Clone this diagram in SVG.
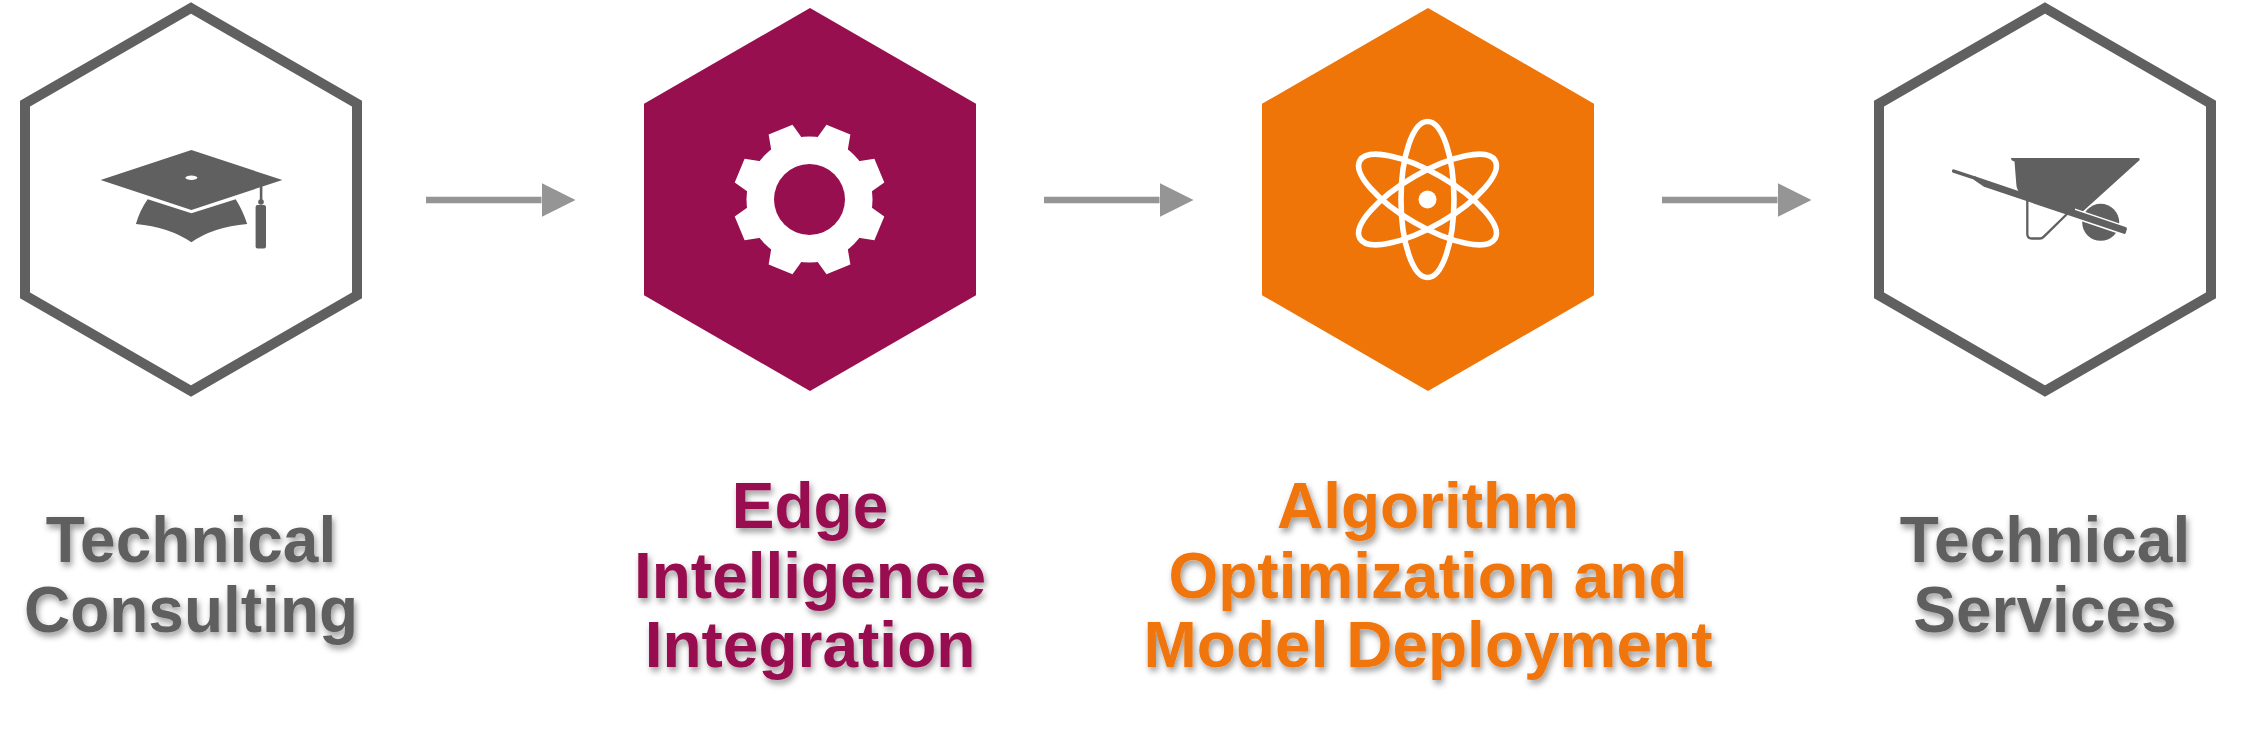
<svg xmlns="http://www.w3.org/2000/svg" xmlns:xlink="http://www.w3.org/1999/xlink" width="2268" height="732" viewBox="0 0 2268 732">
  <style>
    .hexo { fill: #ffffff; stroke: #606060; stroke-width: 10; stroke-linejoin: miter; }
    .icon { fill: #606060; }
    .lbl { font-family: "Liberation Sans", Arial, Helvetica, sans-serif; font-weight: bold; font-size: 64px; text-anchor: middle; filter: url(#sh); }
    .gray { fill: #5f5f5f; }
    .mag { fill: #970f4f; }
    .org { fill: #f07508; }
    .conn { stroke: #959595; stroke-width: 6.7; fill: none; marker-end: url(#ah); }
    .orbit { fill: none; stroke: #ffffff; stroke-width: 5.6; }
  </style>
  <defs>
    <filter id="sh" x="-10%" y="-25%" width="125%" height="160%">
      <feDropShadow dx="2" dy="4" stdDeviation="3" flood-color="#000000" flood-opacity="0.4"/>
    </filter>
    <marker id="ah" markerUnits="userSpaceOnUse" markerWidth="34" markerHeight="34" refX="0" refY="17" orient="auto" viewBox="0 0 34 34">
      <path d="M0,0 L34,17 L0,34 Z" fill="#959595"/>
    </marker>
    <polygon id="tooth" points="-17.3,-56.6 -12.9,-75.6 12.9,-75.6 17.3,-56.6" fill="#ffffff"/>
    <clipPath id="wheelclip"><rect x="2075" y="195" width="60" height="50"/></clipPath>
  </defs>

  <g id="connectors">
    <line class="conn" x1="426" y1="200" x2="541.5" y2="200"/>
    <line class="conn" x1="1044" y1="200" x2="1159.5" y2="200"/>
    <line class="conn" x1="1662" y1="200" x2="1777.5" y2="200"/>
  </g>

  <g id="node-technical-consulting">
    <polygon class="hexo" points="191,8 357,103.75 357,295.25 191,391 25,295.25 25,103.75"/>
    <g id="icon-cap" class="icon">
      <polygon points="100.6,180 191.4,150 282.4,180 191.4,210"/>
      <ellipse cx="191.4" cy="177.7" rx="6" ry="2.2" fill="#ffffff"/>
      <path d="M147.7,199.3 L191.4,213.3 L235.7,199.3 Q242.5,210 247.2,224 Q213,227 191.4,242.3 Q169,227 135.9,224 Q140,210 147.7,199.3 Z"/>
      <rect x="259.8" y="186" width="2.6" height="17"/>
      <circle cx="261" cy="202" r="2.8"/>
      <rect x="255.6" y="205" width="10.4" height="43.5" rx="2"/>
    </g>
    <text class="lbl gray" x="191" y="562">Technical</text>
    <text class="lbl gray" x="191" y="632">Consulting</text>
  </g>

  <g id="node-edge-intelligence">
    <polygon points="810,8 976,103.75 976,295.25 810,391 644,295.25 644,103.75" fill="#970f4f"/>
    <g id="icon-gear" transform="translate(809.5,199.5)">
      <circle r="63" fill="#ffffff"/>
      <use xlink:href="#tooth" transform="rotate(22.5)"/>
      <use xlink:href="#tooth" transform="rotate(67.5)"/>
      <use xlink:href="#tooth" transform="rotate(112.5)"/>
      <use xlink:href="#tooth" transform="rotate(157.5)"/>
      <use xlink:href="#tooth" transform="rotate(202.5)"/>
      <use xlink:href="#tooth" transform="rotate(247.5)"/>
      <use xlink:href="#tooth" transform="rotate(292.5)"/>
      <use xlink:href="#tooth" transform="rotate(337.5)"/>
      <circle r="35.5" fill="#970f4f"/>
    </g>
    <text class="lbl mag" x="810" y="528">Edge</text>
    <text class="lbl mag" x="810" y="597.5">Intelligence</text>
    <text class="lbl mag" x="810" y="667">Integration</text>
  </g>

  <g id="node-algorithm-optimization">
    <polygon points="1428,8 1594,103.75 1594,295.25 1428,391 1262,295.25 1262,103.75" fill="#f07508"/>
    <g id="icon-atom" transform="translate(1427.5,199.5)">
      <ellipse class="orbit" rx="26.5" ry="78"/>
      <ellipse class="orbit" rx="26.5" ry="78" transform="rotate(60)"/>
      <ellipse class="orbit" rx="26.5" ry="78" transform="rotate(-60)"/>
      <circle r="9" fill="#ffffff"/>
    </g>
    <text class="lbl org" x="1428" y="528">Algorithm</text>
    <text class="lbl org" x="1428" y="597.5">Optimization and</text>
    <text class="lbl org" x="1428" y="667">Model Deployment</text>
  </g>

  <g id="node-technical-services">
    <polygon class="hexo" points="2045,8 2211,103.75 2211,295.25 2045,391 1879,295.25 1879,103.75"/>
    <g id="icon-wheelbarrow">
      <circle cx="2100.7" cy="222.3" r="18.5" fill="#606060"/>
      <path d="M2027.3,199 L2027.3,234 Q2027.3,238.5 2031.8,238.5 L2040,238.5 Q2042,238.5 2043.6,236.9 L2068,213" fill="none" stroke="#606060" stroke-width="2.3"/>
      <path class="icon" d="M2011,158 L2139,158 Q2140.8,160 2138,161.5 L2080,214 L2021,194 Q2016.5,190 2016.3,184 L2014.5,161.5 Q2011,160.5 2011,158 Z"/>
      <g transform="translate(1954,169.3) rotate(18.6)">
        <g clip-path="url(#wheelclip)" transform="rotate(-18.6) translate(-1954,-169.3)">
          <g transform="translate(1954,169.3) rotate(18.6)">
            <polygon points="22,0 182,0 182,7 34,7 22,3.5" fill="none" stroke="#ffffff" stroke-width="3"/>
          </g>
        </g>
        <rect x="-1.5" y="0" width="26" height="3.5" rx="1.75" fill="#606060"/>
        <path d="M22,0 L181,0 Q183,0 183,2 L183,5.5 Q183,7 181.5,7 L34,7 L22,3.5 Z" fill="#606060"/>
      </g>
    </g>
    <text class="lbl gray" x="2045" y="562">Technical</text>
    <text class="lbl gray" x="2045" y="632">Services</text>
  </g>
</svg>
